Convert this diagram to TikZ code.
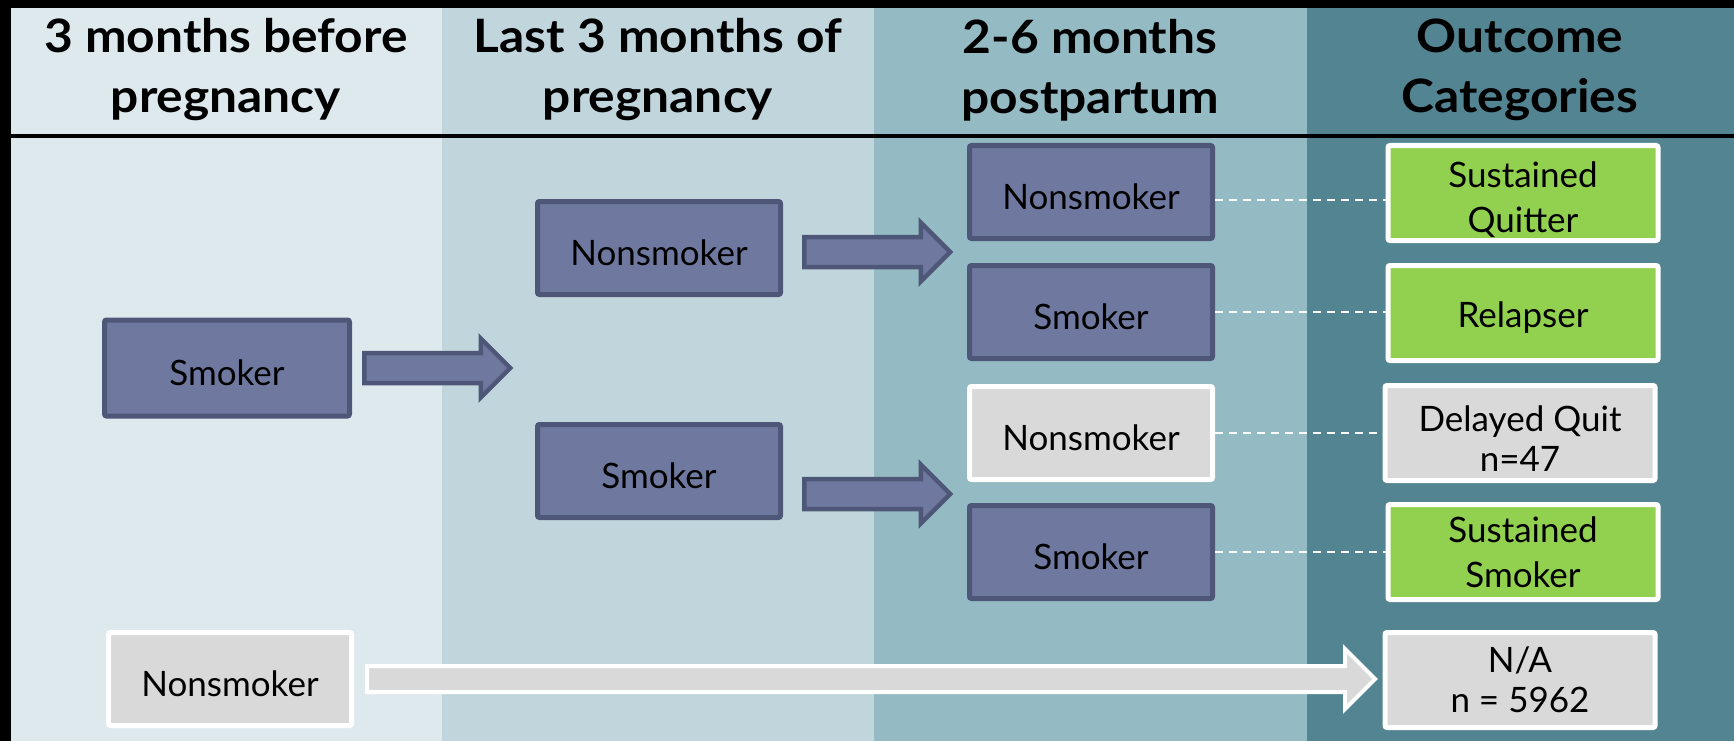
\documentclass[tikz,border=0pt]{standalone}
\usepackage{fontspec}
\setmainfont{Lato}
\newfontfamily\headfam[FakeStretch=1.08]{Lato}
\usetikzlibrary{calc,shapes.arrows}

\definecolor{bgA}{HTML}{DEE9EE}
\definecolor{bgB}{HTML}{C1D6DC}
\definecolor{bgC}{HTML}{94BAC3}
\definecolor{bgD}{HTML}{528591}
\definecolor{pfill}{HTML}{6F79A0}
\definecolor{pdraw}{HTML}{4E5778}
\definecolor{gfill}{HTML}{D9D9D9}
\definecolor{okgreen}{HTML}{92D050}

\newcommand{\headfont}{\headfam\fontsize{46}{60}\selectfont\bfseries}
\newcommand{\boxfont}{\fontsize{35}{45}\selectfont}
% invisible strut that lowers the first text line a little
\newcommand{\lowerby}[1]{\rule{0pt}{#1}}

\begin{document}
\begin{tikzpicture}[x=1pt,y=-1pt,
  stage/.style={rectangle, rounded corners=2pt, line width=5pt,
    minimum width=243pt, minimum height=93pt, inner sep=0pt,
    align=center, font=\boxfont, text=black,
    execute at begin node={\rule{0pt}{35pt}}},
  smokerbox/.style={stage, fill=pfill, draw=pdraw},
  quitbox/.style={stage, fill=gfill, draw=white},
  outcome/.style={stage, minimum width=270pt, minimum height=95pt, draw=white},
  good/.style={outcome, fill=okgreen},
  other/.style={outcome, fill=gfill},
  header/.style={font=\headfont, align=center, text=black, inner sep=0pt},
  parrow/.style={single arrow, draw=pdraw, fill=pfill, line width=4.5pt,
    inner xsep=0pt, inner ysep=12.75pt, minimum width=0pt,
    single arrow head extend=14.5pt, minimum height=146pt, anchor=west},
  warrow/.style={single arrow, draw=white, fill=gfill, line width=4pt,
    inner xsep=0pt, inner ysep=11pt, minimum width=0pt,
    single arrow head extend=17pt, minimum height=1008pt, anchor=west},
  link/.style={draw=white, line width=2pt, dash pattern=on 8pt off 6pt}
]
\useasboundingbox (0,0) rectangle (1734,741);

% frame and column bands
\fill[black] (0,0) rectangle (1734,741);
\fill[bgA] (11,8) rectangle (442,741);
\fill[bgB] (442,8) rectangle (874,741);
\fill[bgC] (874,8) rectangle (1307,741);
\fill[bgD] (1307,8) rectangle (1734,741);
\draw[line width=3.5pt] (11,136) -- (1734,136);

% column headings
\node[header] (h1) at (226,70) {3 months before\\pregnancy};
\node[header] (h2) at (658,70) {Last 3 months of\\pregnancy};
\node[header] (h3) at (1090,70) {2-6 months\\postpartum};
\node[header] (h4) at (1520,70) {Outcome\\Categories};

% status before pregnancy
\node[smokerbox, minimum width=245pt, minimum height=96pt] (s1) at (227,368) {Smoker};
\node[quitbox] (n1) at (230,679) {Nonsmoker};

% status late in pregnancy
\node[smokerbox] (n2) at (659,248) {Nonsmoker};
\node[smokerbox] (s2) at (659,471) {Smoker};

% status postpartum
\node[smokerbox] (pa) at (1091,192) {Nonsmoker};
\node[smokerbox] (pb) at (1091,312) {Smoker};
\node[quitbox]   (pc) at (1091,433) {Nonsmoker};
\node[smokerbox] (pd) at (1091,552) {Smoker};

% outcome categories
\node[good]  (oa) at (1523,193) {\lowerby{39pt}Sustained\\Quitter};
\node[good]  (ob) at (1523,313) {Relapser};
\node[other] (oc) at (1520,433) {\lowerby{36pt}Delayed Quit\\[-5pt]n=47};
\node[good]  (od) at (1523,552) {Sustained\\Smoker};
\node[other] (oe) at (1520,680) {N/A\\[-5pt]n = 5962};

% transition arrows
\node[parrow] (t1) at ($(s1.east)+(10,0)$) {};
\node[parrow] (t2) at ($(n2.east)+(19,4)$) {};
\node[parrow] (t3) at ($(s2.east)+(19,23)$) {};
\node[warrow] (t4) at ($(n1.east)+(11,0)$) {};

% dashed links to outcome categories
\draw[link] ([yshift=-8pt]pa.east) -- ([yshift=-8pt]pa.east -| oa.west);
\draw[link] (pb.east) -- (pb.east -| ob.west);
\draw[link] (pc.east) -- (pc.east -| oc.west);
\draw[link] (pd.east) -- (pd.east -| od.west);
\end{tikzpicture}
\end{document}
